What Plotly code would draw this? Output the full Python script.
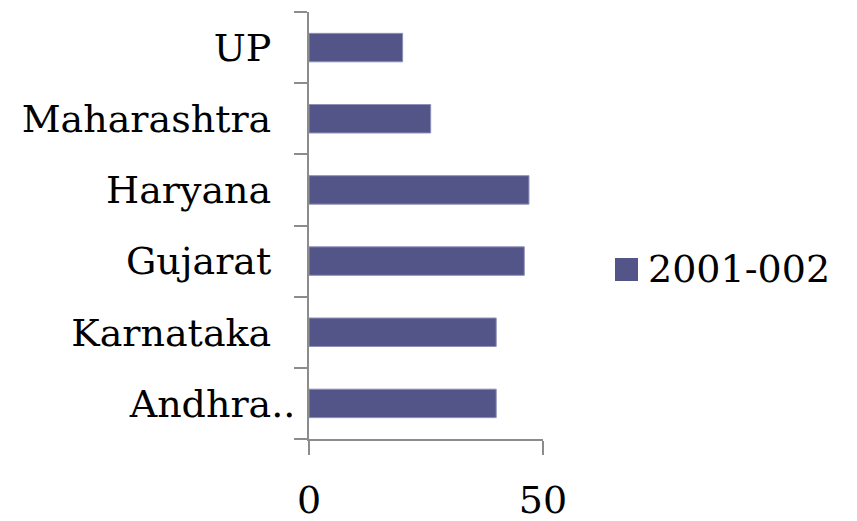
import plotly.graph_objects as go

categories = ["Andhra..", "Karnataka", "Gujarat", "Haryana", "Maharashtra", "UP"]
tick_labels = ["Andhra..", "Karnataka\u00a0\u00a0", "Gujarat\u00a0\u00a0", "Haryana\u00a0\u00a0",
               "Maharashtra\u00a0\u00a0", "UP\u00a0\u00a0"]
values = [40, 40, 46, 47, 26, 20]
series_name = "2001-002"

bar_color = "#535488"
font_family = "DejaVu Serif"

OFF = 8  # page body margin offset
PL, PR, PT, PB = 309 - OFF, 543 - OFF, 12 - OFF, 439 - OFF
def px_x(x):
    return (x - OFF - PL) / (PR - PL)
def px_y(y):
    return (PB - (y - OFF)) / (PB - PT)

fig = go.Figure()
fig.add_trace(go.Bar(
    y=categories, x=values, orientation="h",
    marker=dict(color=bar_color, line=dict(color="#8e8fb8", width=1)),
    showlegend=False, name=series_name,
))

# legend (square + label)
fig.add_shape(type="rect", xref="paper", yref="paper",
              x0=px_x(615), x1=px_x(638), y0=px_y(281), y1=px_y(258),
              fillcolor=bar_color, line=dict(width=0))
fig.add_annotation(xref="paper", yref="paper", x=px_x(646), y=px_y(269),
                   xanchor="left", yanchor="middle", showarrow=False,
                   text=series_name, font=dict(size=38, family=font_family, color="black"))

fig.update_layout(
    width=857, height=521,
    margin=dict(l=PL, r=857 - PR, t=PT, b=521 - PB, autoexpand=False),
    plot_bgcolor="white", paper_bgcolor="white",
    bargap=0.6, showlegend=False,
    font=dict(family=font_family, size=38, color="black"),
)
fig.update_xaxes(
    range=[0, 50], tickvals=[0, 50], ticktext=["0", "50"],
    showgrid=True, gridcolor="#999999", gridwidth=2,
    showline=True, linecolor="#8c8c8c", linewidth=2,
    ticks="outside", ticklen=14, tickwidth=2, tickcolor="#8c8c8c",
    ticklabelstandoff=12, zeroline=False, automargin=False,
)
fig.update_yaxes(
    categoryorder="array", categoryarray=categories,
    tickvals=categories, ticktext=tick_labels,
    showline=True, linecolor="#8c8c8c", linewidth=2,
    ticks="outside", ticklen=13, tickwidth=2, tickcolor="#8c8c8c",
    tickson="boundaries", ticklabelstandoff=4, showgrid=False, automargin=False,
)

fig.write_html("out.html")
